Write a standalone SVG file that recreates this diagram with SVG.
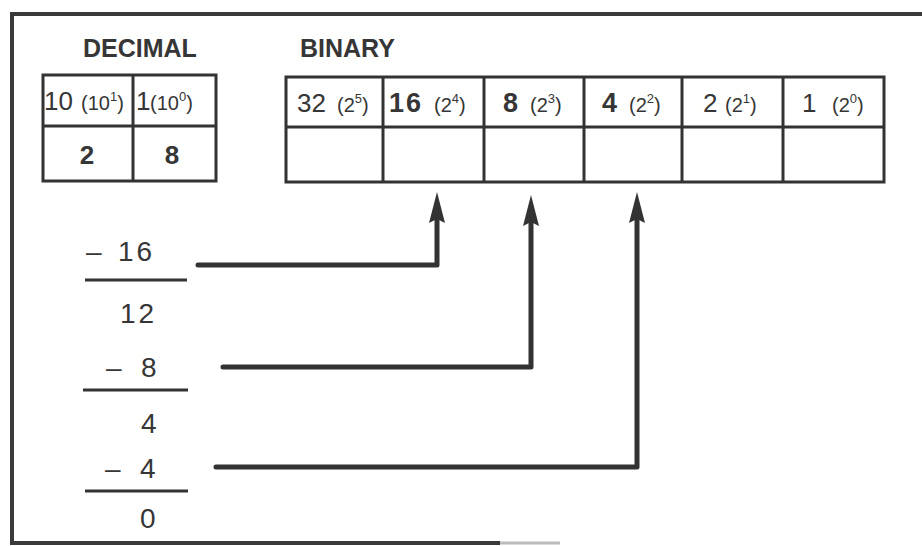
<svg xmlns="http://www.w3.org/2000/svg" width="922" height="546" viewBox="0 0 922 546">
<style>
  .frame{fill:none;stroke:#3a3a3a;stroke-width:4}
  .cell{fill:none;stroke:#333;stroke-width:3}
  .t{font-family:"Liberation Sans",Arial,sans-serif;fill:#363636}
  .head{font-size:25px;font-weight:bold}
  .num{font-size:26px}
  .b{font-weight:bold;font-size:27px;letter-spacing:2px}
  .par{font-size:20px;font-weight:normal;letter-spacing:0}
  .sup{font-size:13px;font-weight:normal;letter-spacing:0}
  .calc{font-size:28px}
  .rule{stroke:#333;stroke-width:3;fill:none}
  .conn{stroke:#333;stroke-width:5;fill:none;stroke-linejoin:round;stroke-linecap:round}
</style>
<defs>
  <marker id="ah" viewBox="0 0 31 16" refX="18" refY="8" markerWidth="31" markerHeight="16" markerUnits="userSpaceOnUse" orient="auto">
    <path d="M0 0 L31 8 L0 16 L4 8 Z" fill="#333"/>
  </marker>
</defs>
<rect width="922" height="546" fill="#fff"/>
<g id="frame">
  <path class="frame" d="M922 14 L12 14 L12 543 L500 543"/>
  <line x1="500" y1="543" x2="560" y2="543" stroke="#bbb" stroke-width="3"/>
</g>
<text class="t head" x="83" y="57">DECIMAL</text>
<text class="t head" x="300" y="57">BINARY</text>
<g id="decimal">
  <rect class="cell" x="43" y="75" width="173" height="106"/>
  <line class="cell" x1="43" y1="126" x2="216" y2="126"/>
  <line class="cell" x1="133" y1="75" x2="133" y2="181"/>
  <text class="t num" x="44" y="110">10<tspan class="par" x="81">(10</tspan><tspan class="sup" dy="-9">1</tspan><tspan class="par" dy="9">)</tspan></text>
  <text class="t num" x="136" y="110">1<tspan class="par" x="150">(10</tspan><tspan class="sup" dy="-9">0</tspan><tspan class="par" dy="9">)</tspan></text>
  <text class="t num" font-weight="bold" x="87" y="164" text-anchor="middle">2</text>
  <text class="t num" font-weight="bold" x="172" y="164" text-anchor="middle">8</text>
</g>
<g id="binary">
  <rect class="cell" x="286" y="77" width="598" height="105"/>
  <line class="cell" x1="286" y1="127" x2="884" y2="127"/>
  <line class="cell" x1="383" y1="77" x2="383" y2="182"/>
  <line class="cell" x1="484" y1="77" x2="484" y2="182"/>
  <line class="cell" x1="584" y1="77" x2="584" y2="182"/>
  <line class="cell" x1="682" y1="77" x2="682" y2="182"/>
  <line class="cell" x1="783" y1="77" x2="783" y2="182"/>
  <text class="t num" x="297" y="112">32<tspan class="par" x="337">(2</tspan><tspan class="sup" dy="-9">5</tspan><tspan class="par" dy="9">)</tspan></text>
  <text class="t b" x="389" y="112">16<tspan class="par" x="434">(2</tspan><tspan class="sup" dy="-9">4</tspan><tspan class="par" dy="9">)</tspan></text>
  <text class="t b" x="503" y="112">8<tspan class="par" x="530">(2</tspan><tspan class="sup" dy="-9">3</tspan><tspan class="par" dy="9">)</tspan></text>
  <text class="t b" x="602" y="112">4<tspan class="par" x="629">(2</tspan><tspan class="sup" dy="-9">2</tspan><tspan class="par" dy="9">)</tspan></text>
  <text class="t num" x="703" y="112">2<tspan class="par" x="725">(2</tspan><tspan class="sup" dy="-9">1</tspan><tspan class="par" dy="9">)</tspan></text>
  <text class="t num" x="802" y="112">1<tspan class="par" x="832">(2</tspan><tspan class="sup" dy="-9">0</tspan><tspan class="par" dy="9">)</tspan></text>
</g>
<g id="subtraction">
  <text class="t calc" x="86" y="261">–<tspan x="118" letter-spacing="3">16</tspan></text>
  <line class="rule" x1="85" y1="280" x2="187" y2="280"/>
  <text class="t calc" x="120" y="323" letter-spacing="3">12</text>
  <text class="t calc" x="106" y="377">–<tspan x="141">8</tspan></text>
  <line class="rule" x1="83" y1="390" x2="188" y2="390"/>
  <text class="t calc" x="141" y="433">4</text>
  <text class="t calc" x="105" y="478">–<tspan x="140">4</tspan></text>
  <line class="rule" x1="85" y1="491" x2="188" y2="491"/>
  <text class="t calc" x="140" y="528">0</text>
</g>
<g id="connectors">
  <path class="conn" d="M198 265 L437 265 L437 205" marker-end="url(#ah)"/>
  <path class="conn" d="M223 367 L531 367 L531 208" marker-end="url(#ah)"/>
  <path class="conn" d="M216 467 L637 467 L637 205" marker-end="url(#ah)"/>
</g>
</svg>
